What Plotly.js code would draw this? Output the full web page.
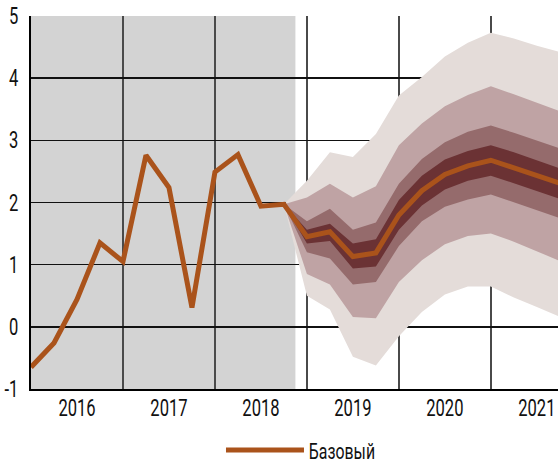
<!DOCTYPE html>
<html>
<head>
<meta charset="utf-8">
<script src="https://cdn.plot.ly/plotly-3.0.1.min.js"></script>
<style>html,body{margin:0;padding:0;background:#fff;}#chart{width:558px;height:459px;}</style>
</head>
<body>
<div id="chart"></div>
<script>
// Quarterly x positions
var histX = [2016.0, 2016.25, 2016.5, 2016.75, 2017.0, 2017.25, 2017.5, 2017.75, 2018.0, 2018.25, 2018.5, 2018.75,
             2019.0, 2019.25, 2019.5, 2019.75, 2020.0, 2020.25, 2020.5, 2020.75, 2021.0, 2021.25, 2021.5, 2021.75];
var baseline = [-0.65, -0.26, 0.44, 1.35, 1.05, 2.76, 2.24, 0.31, 2.49, 2.77, 1.94, 1.97,
                1.45, 1.53, 1.13, 1.19, 1.80, 2.19, 2.45, 2.59, 2.68, 2.56, 2.44, 2.31];

var fanX = [2018.75, 2019.0, 2019.25, 2019.5, 2019.75, 2020.0, 2020.25, 2020.5, 2020.75, 2021.0, 2021.25, 2021.5, 2021.75];
// outer band (lightest)
var band1Up = [1.97, 2.35, 2.81, 2.73, 3.10, 3.72, 4.02, 4.35, 4.57, 4.73, 4.64, 4.52, 4.42];
var band1Lo = [1.97, 0.50, 0.28, -0.48, -0.62, -0.15, 0.24, 0.52, 0.65, 0.65, 0.47, 0.32, 0.16];
// second band
var band2Up = [1.97, 2.08, 2.30, 2.08, 2.26, 2.92, 3.27, 3.55, 3.73, 3.87, 3.74, 3.61, 3.47];
var band2Lo = [1.97, 0.85, 0.68, 0.16, 0.14, 0.72, 1.07, 1.33, 1.46, 1.50, 1.37, 1.22, 1.06];
// third band
var band3Up = [1.97, 1.70, 1.90, 1.56, 1.68, 2.30, 2.70, 2.97, 3.14, 3.24, 3.12, 2.99, 2.87];
var band3Lo = [1.97, 1.20, 1.10, 0.68, 0.72, 1.30, 1.70, 1.93, 2.05, 2.13, 2.00, 1.88, 1.75];
// inner band (darkest)
var band4Up = [1.97, 1.56, 1.66, 1.34, 1.41, 2.04, 2.43, 2.69, 2.83, 2.92, 2.81, 2.68, 2.55];
var band4Lo = [1.97, 1.34, 1.38, 0.94, 0.97, 1.56, 1.95, 2.21, 2.35, 2.43, 2.31, 2.19, 2.06];

var yTickVals = [-1, 0, 1, 2, 3, 4, 5];
var yTickText = ["-1", "0", "1", "2", "3", "4", "5"];
var yearTickVals = [2016.5, 2017.5, 2018.5, 2019.5, 2020.5, 2021.5];
var yearTickText = ["2016", "2017", "2018", "2019", "2020", "2021"];
var legendName = "Базовый";

var shadeStart = 2016.0, shadeEnd = 2018.875;
var LINE_COLOR = '#aa531b';

function bandTrace(up, lo, color) {
  return {
    x: fanX.concat(fanX.slice().reverse()),
    y: up.concat(lo.slice().reverse()),
    type: 'scatter', mode: 'lines', fill: 'toself',
    fillcolor: color, line: {width: 0, color: color},
    hoverinfo: 'skip', showlegend: false
  };
}

var traces = [
  bandTrace(band1Up, band1Lo, '#e4dcd9'),
  bandTrace(band2Up, band2Lo, '#bfa3a4'),
  bandTrace(band3Up, band3Lo, '#956b6c'),
  bandTrace(band4Up, band4Lo, '#6b3234'),
  {
    x: histX, y: baseline, type: 'scatter', mode: 'lines', name: legendName,
    line: {color: LINE_COLOR, width: 5}, showlegend: false
  }
];

var FONT = 'Roboto, "DejaVu Sans Condensed", sans-serif';

var layout = {
  width: 558, height: 459,
  margin: {l: 31, r: 0, t: 16, b: 70, pad: 0, autoexpand: false},
  paper_bgcolor: '#fff', plot_bgcolor: '#fff',
  font: {family: FONT, size: 23, color: '#111'},
  showlegend: false,
  xaxis: {
    range: [2016, 2021.73], tickmode: 'array', tickvals: yearTickVals, ticktext: yearTickText,
    showgrid: false, zeroline: false, showline: true, linecolor: '#000', linewidth: 2,
    ticks: '', ticklen: 0, ticklabelstandoff: -3, ticklabeloverflow: 'allow',
    tickfont: {family: FONT, size: 23, color: '#111'},
    minor: {tick0: 2016, dtick: 1, showgrid: true, gridcolor: '#4a4a4a', gridwidth: 2, ticks: ''},
    layer: 'above traces', fixedrange: true
  },
  yaxis: {
    range: [-1, 5], tickmode: 'array', tickvals: yTickVals, ticktext: yTickText,
    showgrid: true, gridcolor: '#111', gridwidth: 1.5,
    zeroline: true, zerolinecolor: '#111', zerolinewidth: 1.5,
    showline: true, linecolor: '#000', linewidth: 2, ticks: '', ticklabelstandoff: 6,
    tickfont: {family: FONT, size: 23, color: '#111'},
    layer: 'above traces', fixedrange: true
  },
  shapes: [
    {type: 'rect', xref: 'x', yref: 'paper', x0: shadeStart, x1: shadeEnd, y0: 0, y1: 1,
     fillcolor: '#d3d3d3', line: {width: 0}, layer: 'below'},
    // legend sample line
    {type: 'line', xref: 'paper', yref: 'paper', x0: 0.370, x1: 0.518, y0: -0.1635, y1: -0.1635,
     line: {color: LINE_COLOR, width: 5}}
  ],
  annotations: [
    {xref: 'paper', yref: 'paper', x: 0.590, y: -0.168, xanchor: 'center', yanchor: 'middle',
     text: legendName, showarrow: false, font: {family: FONT, size: 22, color: '#111'}}
  ]
};

Plotly.newPlot('chart', traces, layout, {staticPlot: true, displayModeBar: false}).then(function () {
  // condense the labels to mimic the narrow typeface of the original
  var sel = document.querySelectorAll('.xtick text, .ytick text, .annotation-text');
  sel.forEach(function (t) {
    var len = t.getComputedTextLength();
    t.setAttribute('textLength', (len * 0.72).toFixed(1));
    t.setAttribute('lengthAdjust', 'spacingAndGlyphs');
  });
});
</script>
</body>
</html>
